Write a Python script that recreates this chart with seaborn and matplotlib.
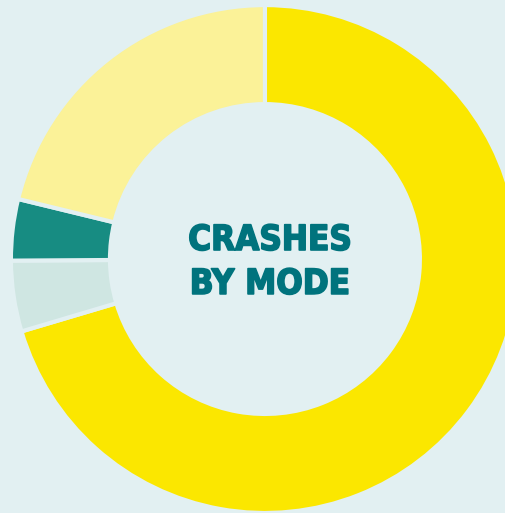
import matplotlib
matplotlib.use("Agg")
import matplotlib.pyplot as plt
import matplotlib.patheffects as pe
import seaborn as sns

# crash share by mode (clockwise from 12 o'clock)
modes = ["Motor vehicle", "Pedestrian", "Bicycle", "Other"]
shares = [70.4, 4.5, 3.9, 21.2]
colors = ["#FBE700", "#CFE6E2", "#178C82", "#FBF298"]
title_lines = ["CRASHES", "BY MODE"]

BG = "#E2F0F2"
TEXT = "#00737D"

sns.set_theme(style="white")
plt.rcParams["font.family"] = ["DejaVu Sans"]

fig = plt.figure(figsize=(5.06, 5.13), dpi=100)
fig.patch.set_facecolor(BG)
ax = fig.add_axes([0, 0, 1, 1])
ax.set_facecolor(BG)

ax.pie(shares, colors=colors, startangle=90, counterclock=False, radius=1,
       wedgeprops=dict(width=0.39, edgecolor=BG, linewidth=3))

# ring is cropped by the frame on the right and bottom
ax.set_xlim(-1.043, 0.949)
ax.set_ylim(-1.0, 1.020)
ax.set_aspect("auto")
ax.axis("off")

thick = [pe.withStroke(linewidth=1.2, foreground=TEXT)]
ax.text(0.02, 0.075, title_lines[0], ha="center", va="center", color=TEXT,
        fontsize=25, fontweight="bold", fontstretch="condensed",
        path_effects=thick)
ax.text(0.02, -0.098, title_lines[1], ha="center", va="center", color=TEXT,
        fontsize=25, fontweight="bold", fontstretch="condensed",
        path_effects=thick)

fig.savefig("out.png", dpi=100, facecolor=BG)
